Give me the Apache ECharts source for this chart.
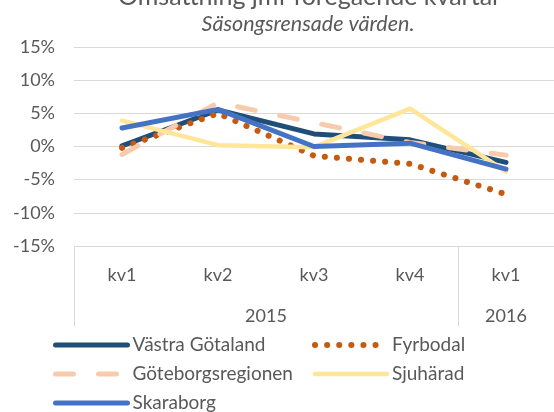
<!DOCTYPE html>
<html>
<head>
<meta charset="utf-8">
<script src="https://cdn.jsdelivr.net/npm/echarts@6/dist/echarts.min.js"></script>
<style>
  html, body { margin: 0; padding: 0; background: #fff; }
  #chart { width: 554px; height: 412px; }
</style>
</head>
<body>
<div id="chart"></div>
<script>
// kvartal och år
const quarters = ['kv1', 'kv2', 'kv3', 'kv4', 'kv1'];
const years = ['2015', '2016'];
// procent jmf föregående kvartal
const vastraGotaland = [0.1, 5.5, 1.9, 1.0, -2.4];
const fyrbodal = [-0.2, 5.0, -1.4, -2.6, -7.2];
const goteborgsregionen = [-1.2, 6.6, 3.6, 0.6, -1.3];
const sjuharad = [3.9, 0.2, -0.1, 5.7, -3.8];
const skaraborg = [2.8, 5.6, 0.0, 0.5, -3.4];

const grey = '#595959';
const font = 'Lato';

let myChart = echarts.init(document.getElementById('chart'));

function line(name, data, color, type, width) {
  return {
    name: name,
    type: 'line',
    data: data,
    symbol: 'none',
    xAxisIndex: 0,
    lineStyle: { color: color, width: width, type: type, cap: 'round', join: 'round' },
    itemStyle: { color: color }
  };
}

// legend i två kolumner som i Excel
function legendCol(left, names) {
  return {
    orient: 'vertical',
    left: left,
    top: 334,
    height: 120,
    padding: 0,
    itemWidth: 72,
    itemHeight: 14,
    itemGap: 7,
    itemStyle: { opacity: 0 },
    lineStyle: { width: 'inherit' },
    textStyle: { color: grey, fontFamily: font, fontSize: 19, lineHeight: 22 },
    data: names
  };
}

myChart.setOption({
  backgroundColor: '#fff',
  animation: false,
  title: {
    text: 'Omsättning jmf föregående kvartal',
    subtext: 'Säsongsrensade värden.',
    left: 303,
    textAlign: 'center',
    top: -21,
    itemGap: 4,
    textStyle: { color: grey, fontFamily: font, fontSize: 25, fontWeight: 'normal' },
    subtextStyle: { color: grey, fontFamily: font, fontSize: 21.5, fontStyle: 'italic' }
  },
  legend: [
    legendCol(53, ['Västra Götaland', 'Göteborgsregionen', 'Skaraborg']),
    legendCol(312, ['Fyrbodal', 'Sjuhärad'])
  ],
  grid: { left: 74, right: -9, top: 47, bottom: 166 },
  xAxis: [
    {
      type: 'category',
      data: quarters,
      boundaryGap: true,
      axisLine: { show: true, lineStyle: { color: '#d9d9d9' } },
      axisTick: { show: false },
      axisLabel: { color: grey, fontFamily: font, fontSize: 18, margin: 20 }
    },
    {
      type: 'value',
      position: 'bottom',
      min: 0,
      max: 5,
      axisLine: { show: false },
      splitLine: { show: false },
      axisTick: {
        show: true,
        customValues: [0, 4],
        length: 80,
        lineStyle: { color: '#d9d9d9' }
      },
      axisLabel: {
        show: true,
        customValues: [2, 4.5],
        formatter: v => (v < 4 ? years[0] : years[1]),
        color: grey,
        fontFamily: font,
        fontSize: 18,
        margin: 61
      }
    }
  ],
  yAxis: {
    type: 'value',
    min: -15,
    max: 15,
    interval: 5,
    axisLine: { show: false },
    axisTick: { show: false },
    splitLine: { lineStyle: { color: '#d9d9d9' } },
    axisLabel: { formatter: '{value}%', color: grey, fontFamily: font, fontSize: 18, margin: 19 }
  },
  series: [
    line('Västra Götaland', vastraGotaland, '#1f4e79', 'solid', 5),
    line('Fyrbodal', fyrbodal, '#c55a11', [0.1, 12], 6),
    line('Göteborgsregionen', goteborgsregionen, '#f8cbad', [18, 25], 5),
    line('Sjuhärad', sjuharad, '#ffe699', 'solid', 4.5),
    line('Skaraborg', skaraborg, '#4472c4', 'solid', 5)
  ]
});
</script>
</body>
</html>
